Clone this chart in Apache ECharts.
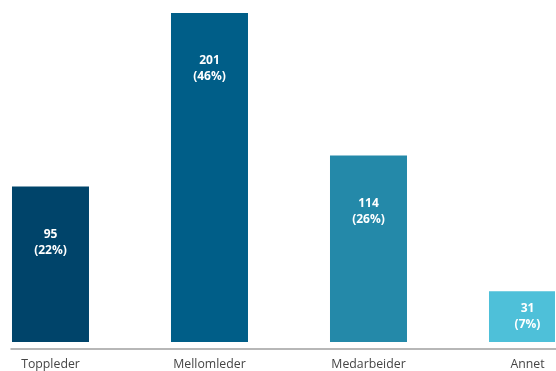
<!DOCTYPE html>
<html>
<head>
<meta charset="utf-8">
<script src="https://cdn.jsdelivr.net/npm/echarts@6/dist/echarts.min.js"></script>
<style>
  html, body { margin: 0; padding: 0; background: #ffffff; }
  #chart { width: 556px; height: 371px; }
</style>
</head>
<body>
<div id="chart"></div>
<script>
// Respondents by role
const categories = ['Toppleder', 'Mellomleder', 'Medarbeider', 'Annet'];
const counts = [95, 201, 114, 31];
const shares = [22, 46, 26, 7];
const barColors = ['#00446a', '#005e88', '#2489a9', '#4ec0d9'];

// Category i sits at x = i on a numeric axis so the plot area can cut the last bar
const points = counts.map((v, i) => [i, v]);
const BAR_WIDTH = 77;

const chart = echarts.init(document.getElementById('chart'), null, { renderer: 'canvas' });

const labelFont = {
  color: '#ffffff',
  fontFamily: 'Open Sans',
  fontWeight: 'bold',
  fontSize: 12,
  lineHeight: 16
};

// Bars drawn through the axes, then cut to the plot rectangle
function renderBar(params, api) {
  const x = api.value(0);
  const top = api.coord([x, api.value(1)]);
  const base = api.coord([x, 0]);
  const rect = echarts.graphic.clipRectByRect(
    { x: top[0] - BAR_WIDTH / 2, y: top[1], width: BAR_WIDTH, height: base[1] - top[1] },
    { x: params.coordSys.x, y: params.coordSys.y, width: params.coordSys.width, height: params.coordSys.height }
  );
  if (!rect) return null;
  return {
    type: 'rect',
    shape: rect,
    style: { fill: barColors[params.dataIndex] }
  };
}

chart.setOption({
  animation: false,
  grid: [
    { left: 11, right: 1, top: 0, bottom: 22 },
    { left: 11, right: 0, top: 0, bottom: 22 }
  ],
  xAxis: [
    {
      type: 'value',
      gridIndex: 0,
      min: -0.2484,
      max: 3.1730,
      splitLine: { show: false },
      axisTick: { show: false },
      axisLine: { show: false },
      axisLabel: {
        customValues: categories.map((_, i) => i),
        margin: 9,
        color: '#454545',
        fontFamily: 'Open Sans',
        fontSize: 12.3,
        formatter: v => categories[Math.round(v)] || ''
      }
    },
    {
      type: 'value',
      gridIndex: 1,
      min: 0,
      max: 1,
      splitLine: { show: false },
      axisTick: { show: false },
      axisLabel: { show: false },
      axisLine: { show: true, onZero: false, lineStyle: { color: '#a0a0a0', width: 1.5 } }
    }
  ],
  yAxis: [
    { type: 'value', gridIndex: 0, min: -4.28, max: 208.94, show: false },
    { type: 'value', gridIndex: 1, min: 0, max: 1, show: false }
  ],
  series: [
    {
      type: 'custom',
      xAxisIndex: 0,
      yAxisIndex: 0,
      renderItem: renderBar,
      encode: { x: 0, y: 1 },
      data: points
    },
    {
      // transparent bars that carry the value labels
      type: 'bar',
      xAxisIndex: 0,
      yAxisIndex: 0,
      clip: false,
      barWidth: BAR_WIDTH,
      silent: true,
      itemStyle: { color: 'rgba(0,0,0,0)' },
      data: points.map((p, i) => ({
        value: p,
        label: counts[i] < 50
          ? Object.assign({ show: true, position: 'inside' }, labelFont)
          : Object.assign({ show: true, position: 'insideTop', distance: 40 }, labelFont)
      })),
      label: {
        show: true,
        formatter: p => counts[p.dataIndex] + '\n(' + shares[p.dataIndex] + '%)'
      }
    }
  ]
});
</script>
</body>
</html>
